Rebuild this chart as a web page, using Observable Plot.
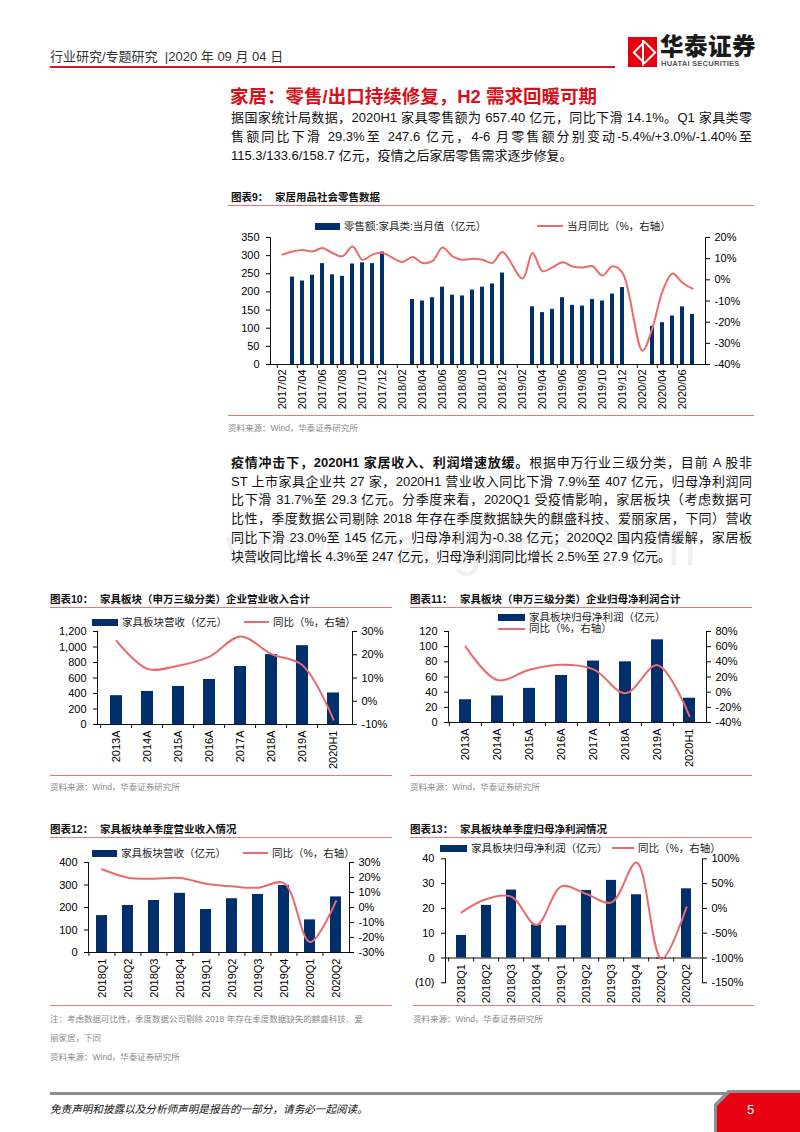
<!DOCTYPE html>
<html><head><meta charset="utf-8">
<script src="https://cdn.jsdelivr.net/npm/d3@7"></script>
<script src="https://cdn.jsdelivr.net/npm/@observablehq/plot@0.6"></script>
<style>
html,body{margin:0;padding:0;background:#fff;}
#page{position:relative;width:800px;height:1132px;overflow:hidden;background:#fff;font-family:"Liberation Sans",Arial,"Noto Sans CJK SC",sans-serif;color:#111;}
.abs{position:absolute;white-space:nowrap;}
.para{position:absolute;left:231px;width:521px;font-size:13px;line-height:18px;text-align:justify;text-align-last:justify;color:#111;}
.para.last{text-align-last:left;}
.ctitle{position:absolute;font-size:10.5px;font-weight:700;color:#111;white-space:nowrap;}
.leg{position:absolute;font-size:10.5px;color:#222;white-space:nowrap;line-height:12px;}
.src{position:absolute;font-size:8.5px;color:#8a8a8a;white-space:nowrap;}
</style></head>
<body><div id="page"></div>
<script>
// ---------- data ----------
const months9 = ["2017/02","2017/03","2017/04","2017/05","2017/06","2017/07","2017/08","2017/09","2017/10","2017/11","2017/12",
 "2018/01","2018/02","2018/03","2018/04","2018/05","2018/06","2018/07","2018/08","2018/09","2018/10","2018/11","2018/12",
 "2019/01","2019/02","2019/03","2019/04","2019/05","2019/06","2019/07","2019/08","2019/09","2019/10","2019/11","2019/12",
 "2020/01","2020/02","2020/03","2020/04","2020/05","2020/06","2020/07"];
const sales9 = [null,241,230,246,278,247,243,277,280,278,310,
 null,null,179,175,184,213,191,189,205,213,222,252,
 null,null,159,143,152,184,163,161,179,175,194,212,
 null,null,105,115.3,133.6,158.7,138];
const yoy9 = [11.9,13.4,14.1,13.4,15.0,12.7,11.1,15.8,9.5,11.9,12.7,
 null,8.4,10.8,8.0,8.8,15.3,11.1,9.5,10.0,9.5,8.0,13.1,
 null,0.6,12.7,4.1,5.9,8.3,6.3,5.8,6.4,2.0,6.4,3.3,
 null,-33.5,-22.7,-5.4,3.0,-1.4,-4.2];
const xLabels9 = ["2017/02","2017/04","2017/06","2017/08","2017/10","2017/12","2018/02","2018/04","2018/06","2018/08","2018/10","2018/12",
 "2019/02","2019/04","2019/06","2019/08","2019/10","2019/12","2020/02","2020/04","2020/06"];
const ticksL9 = [0,50,100,150,200,250,300,350];
const ticksR9 = [-40,-30,-20,-10,0,10,20];

const years = ["2013A","2014A","2015A","2016A","2017A","2018A","2019A","2020H1"];
const revenue10 = [372,427,491,581,748,902,1017,407];
const revYoy10 = [26.0,13.9,15.3,19.2,27.9,20.3,15.5,-7.9];
const ticksL10 = [0,200,400,600,800,1000,1200];
const ticksR10 = [-10,0,10,20,30];

const profit11 = [30,35,45,62,81,80,109,32];
const profYoy11 = [60,16,29.5,36,30,-1.3,35.6,-31.7];
const ticksL11 = [0,20,40,60,80,100,120];
const ticksR11 = [-40,-20,0,20,40,60,80];

const quarters = ["2018Q1","2018Q2","2018Q3","2018Q4","2019Q1","2019Q2","2019Q3","2019Q4","2020Q1","2020Q2"];
const revenue12 = [164,209,231,263,191,239,258,298,145,247];
const revYoy12 = [25.5,19.9,19.2,19.7,15.9,14.1,13.2,16.3,-23.0,4.3];
const ticksL12 = [0,100,200,300,400];
const ticksR12 = [-30,-20,-10,0,10,20,30];

const profit13 = [9.1,21.2,27.4,13.3,13.0,27.2,31.3,25.5,-0.38,27.9];
const profYoy13 = [-8,18.8,23.5,-33.6,44.4,28.9,12.1,92.7,-102,2.5];
const ticksL13 = [-10,0,10,20,30,40];
const ticksR13 = [-150,-100,-50,0,50,100];

// ---------- helpers ----------
const page = document.getElementById("page");
const FONT = '"Liberation Sans", Arial, "Noto Sans CJK SC", sans-serif';
const BAR = "#002f6c", LINE = "#ea6b6d";

function el(cls, left, top, html, extra) {
  const d = document.createElement("div");
  d.className = cls; d.style.left = left + "px"; d.style.top = top + "px";
  if (extra) d.style.cssText += extra;
  d.innerHTML = html; page.appendChild(d); return d;
}
function box(left, top, w, h, bg, extra) {
  const d = document.createElement("div");
  d.style.cssText = `position:absolute;left:${left}px;top:${top}px;width:${w}px;height:${h}px;background:${bg};` + (extra||"");
  page.appendChild(d); return d;
}
function place(node, left, top) {
  const d = document.createElement("div");
  d.style.cssText = `position:absolute;left:${left}px;top:${top}px;`;
  d.appendChild(node); page.appendChild(d);
}
function legBar(x, y, w, text) { box(x, y - 3.5, w, 7, BAR); el("leg", x + w + 4, y - 6.5, text); }
function legLine(x, y, w, text) { box(x, y - 1, w, 2, LINE); el("leg", x + w + 4, y - 6.5, text); }

function dual(cfg) {
  const common = {
    width: cfg.width, height: cfg.height,
    marginLeft: cfg.ml, marginRight: cfg.mr, marginTop: cfg.mt, marginBottom: cfg.mb,
    x: {type: "band", domain: cfg.cats, paddingInner: cfg.pad, paddingOuter: cfg.pad / 2, axis: null}
  };
  const step = (cfg.width - cfg.ml - cfg.mr) / cfg.cats.length;
  const st = {fontFamily: FONT, fontSize: "11px", color: "#000", overflow: "visible", background: "transparent"};
  const barData = cfg.cats.map((c, i) => ({c, v: cfg.bars[i]})).filter(d => d.v != null);
  const lineData = cfg.cats.map((c, i) => ({c, v: cfg.line[i]})).filter(d => d.v != null);
  const marks = [
    Plot.barY(barData, {x: "c", y: "v", fill: BAR}),
    Plot.ruleY([0], {stroke: "#111", strokeWidth: 1}),
    Plot.ruleX(cfg.tickCats || cfg.cats, {x: d => d, y1: 0, y2: 0, insetTop: 4, dx: -step / 2, stroke: "#111"}),
    Plot.axisY({anchor: "left", label: null, ticks: cfg.ticksL, tickFormat: cfg.fmtL, tickSize: 4, tickPadding: cfg.padL ?? 7}),
    Plot.frame({anchor: "left", stroke: "#111"})
  ];
  if (cfg.labelsAtZero) {
    marks.push(Plot.text(cfg.cats, {x: d => d, y: 0, text: d => d, rotate: -90, textAnchor: "end", dy: 6, fontSize: 11, fill: "#000"}));
  } else {
    marks.push(Plot.axisX({label: null, ticks: cfg.xTicks || cfg.cats, tickRotate: -90, tickSize: 0, tickPadding: cfg.padX ?? 6}));
  }
  const p1 = Plot.plot({...common, y: {domain: cfg.yL, axis: null}, style: st, marks});
  const p2 = Plot.plot({...common, y: {domain: cfg.yR, axis: null}, style: st, marks: [
    Plot.line(lineData, {x: "c", y: "v", stroke: LINE, strokeWidth: 2, curve: "catmull-rom"}),
    Plot.axisY({anchor: "right", label: null, ticks: cfg.ticksR, tickFormat: d => d + "%", tickSize: 4, tickPadding: 5}),
    Plot.frame({anchor: "right", stroke: "#111"})
  ]});
  place(p1, cfg.left, cfg.top);
  place(p2, cfg.left, cfg.top);
}

// ---------- header ----------
el("abs", 50, 48, '行业研究/专题研究 &nbsp;<span style="font-family:\'Liberation Sans\'">|</span>2020 年 09 月 04 日', "font-size:13px;color:#333;line-height:18px;");
box(50, 66, 565, 2, "#e0141e");
box(628, 37, 29, 30, "#e60012");
box(636, 44, 13, 13, "transparent", "border:2px solid #fff;transform:rotate(45deg);");
box(641.5, 40, 2, 26, "#fff");
el("abs", 660, 32, "华泰证券", "font-size:23.5px;font-weight:900;color:#1a1a1a;line-height:30px;letter-spacing:0.5px;");
el("abs", 661, 59, "HUATAI SECURITIES", "font-size:7.6px;font-weight:700;color:#555;line-height:10px;letter-spacing:0.2px;");

// ---------- headline & paragraph 1 ----------
el("abs", 230, 85, "家居：零售/出口持续修复，H2 需求回暖可期", "font-size:18.5px;font-weight:700;color:#d9101b;line-height:24px;");
el("para", 231, 109, "据国家统计局数据，2020H1 家具零售额为 657.40 亿元，同比下滑 14.1%。Q1 家具类零");
el("para", 231, 128, "售额同比下滑 29.3%至 247.6 亿元，4-6 月零售额分别变动-5.4%/+3.0%/-1.40%至");
el("para last", 231, 147, "115.3/133.6/158.7 亿元，疫情之后家居零售需求逐步修复。");

// ---------- chart 9 ----------
el("ctitle", 231, 189, "图表9：");
el("ctitle", 275, 189, "家居用品社会零售数据");
box(228, 205, 526, 1, "#e57b7b");
dual({left: 200, top: 215, width: 565, height: 199, ml: 70, mr: 60, mt: 22, mb: 50,
  cats: months9, bars: sales9, line: yoy9, yL: [0, 350], yR: [-40, 20],
  ticksL: ticksL9, ticksR: ticksR9, fmtL: d => d, xTicks: xLabels9, tickCats: xLabels9, pad: 0.56, padX: 5});
legBar(315, 226, 25, "零售额:家具类:当月值（亿元）");
legLine(537, 226, 26, "当月同比（%，右轴）");
box(228, 415, 526, 1, "#e57b7b");
el("src", 228, 421, "资料来源：Wind，华泰证券研究所");

// ---------- paragraph 2 ----------
el("abs", 226, 516, "www.baogao8.com", "font-size:54px;color:rgba(0,0,0,0.06);line-height:60px;letter-spacing:1px;");
el("para", 231, 454, '<b>疫情冲击下，2020H1 家居收入、利润增速放缓。</b>根据申万行业三级分类，目前 A 股非');
el("para", 231, 472.7, "ST 上市家具企业共 27 家，2020H1 营业收入同比下滑 7.9%至 407 亿元，归母净利润同");
el("para", 231, 491.4, "比下滑 31.7%至 29.3 亿元。分季度来看，2020Q1 受疫情影响，家居板块（考虑数据可");
el("para", 231, 510.1, "比性，季度数据公司剔除 2018 年存在季度数据缺失的麒盛科技、爱丽家居，下同）营收");
el("para", 231, 528.8, "同比下滑 23.0%至 145 亿元，归母净利润为-0.38 亿元；2020Q2 国内疫情缓解，家居板");
el("para last", 231, 547.5, "块营收同比增长 4.3%至 247 亿元，归母净利润同比增长 2.5%至 27.9 亿元。");

// ---------- chart 10 ----------
el("ctitle", 50, 591, "图表10：");
el("ctitle", 100, 591, "家具板块（申万三级分类）企业营业收入合计");
box(50, 607, 342, 1, "#e57b7b");
dual({left: 20, top: 620, width: 380, height: 152, ml: 77, mr: 48, mt: 11, mb: 48,
  cats: years, bars: revenue10, line: revYoy10, yL: [0, 1200], yR: [-10, 30],
  ticksL: ticksL10, ticksR: ticksR10, fmtL: d3.format(","), pad: 0.6});
legBar(92, 622, 26, "家具板块营收（亿元）");
legLine(244, 622, 25, "同比（%，右轴）");
box(50, 775, 342, 1, "#e57b7b");
el("src", 50, 780, "资料来源：Wind，华泰证券研究所");

// ---------- chart 11 ----------
el("ctitle", 410, 591, "图表11：");
el("ctitle", 460, 591, "家具板块（申万三级分类）企业归母净利润合计");
box(410, 607, 342, 1, "#e57b7b");
dual({left: 400, top: 620, width: 400, height: 152, ml: 48, mr: 94, mt: 11, mb: 50,
  cats: years, bars: profit11, line: profYoy11, yL: [0, 120], yR: [-40, 80],
  ticksL: ticksL11, ticksR: ticksR11, fmtL: d => d, pad: 0.62});
legBar(498, 617, 27, "家具板块归母净利润（亿元）");
legLine(498, 628.5, 27, "同比（%，右轴）");
box(410, 775, 342, 1, "#e57b7b");
el("src", 410, 780, "资料来源：Wind，华泰证券研究所");

// ---------- chart 12 ----------
el("ctitle", 50, 821, "图表12：");
el("ctitle", 100, 821, "家具板块单季度营业收入情况");
box(50, 837, 342, 1, "#e57b7b");
dual({left: 20, top: 850, width: 380, height: 150, ml: 68, mr: 51, mt: 12, mb: 48,
  cats: quarters, bars: revenue12, line: revYoy12, yL: [0, 400], yR: [-30, 30],
  ticksL: ticksL12, ticksR: ticksR12, fmtL: d => d, pad: 0.59});
legBar(92, 853, 25, "家具板块营收（亿元）");
legLine(243, 853, 25, "同比（%，右轴）");
box(50, 1005, 342, 1, "#e57b7b");
el("src", 50, 1012, "注：考虑数据可比性，季度数据公司剔除 2018 年存在季度数据缺失的麒盛科技、爱");
el("src", 50, 1031, "丽家居，下同");
el("src", 50, 1050, "资料来源：Wind，华泰证券研究所");

// ---------- chart 13 ----------
el("ctitle", 410, 821, "图表13：");
el("ctitle", 460, 821, "家具板块单季度归母净利润情况");
box(410, 837, 342, 1, "#e57b7b");
dual({left: 400, top: 846, width: 400, height: 160, ml: 45, mr: 98, mt: 12.3, mb: 23.7,
  cats: quarters, bars: profit13, line: profYoy13, yL: [-10, 40], yR: [-150, 100],
  ticksL: ticksL13, ticksR: ticksR13, fmtL: d => d < 0 ? "(" + (-d) + ")" : d, pad: 0.61, labelsAtZero: true});
legBar(440, 848, 27, "家具板块归母净利润（亿元）");
legLine(612, 848, 22, "同比（%，右轴）");
box(413, 1005, 341, 1, "#e57b7b");
el("src", 413, 1012, "资料来源：Wind，华泰证券研究所");

// ---------- footer ----------
box(50, 1092, 680, 3, "#8d8d8d");
box(714, 1090, 86, 42, "#8d8d8d", "clip-path:polygon(14px 0,86px 0,86px 42px,0 42px,0 14px);");
box(717, 1093, 83, 39, "#e60012", "clip-path:polygon(13px 0,83px 0,83px 39px,0 39px,0 13px);");
el("abs", 50, 1101, "免责声明和披露以及分析师声明是报告的一部分，请务必一起阅读。", "font-size:10.6px;font-style:italic;color:#111;line-height:16px;");
el("abs", 747, 1101, "5", "font-size:13px;color:#fff;line-height:18px;");
</script>
</body></html>
